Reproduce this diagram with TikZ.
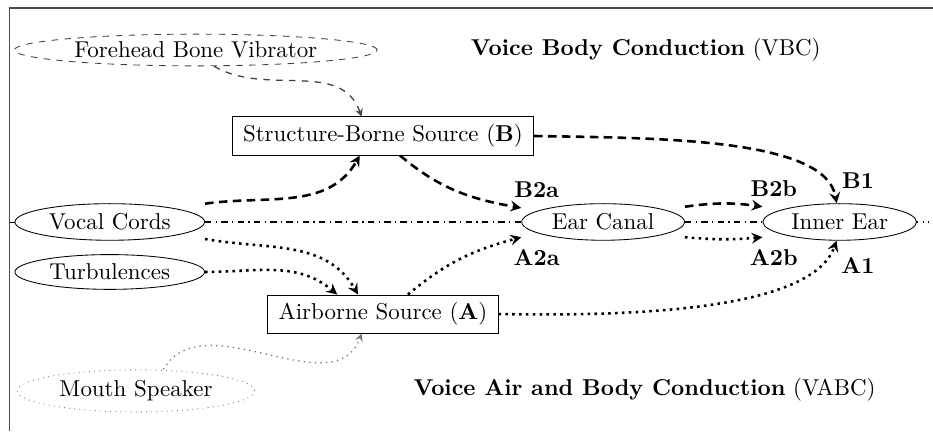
\documentclass[tikz,border=0pt]{standalone}
\usepackage{amsmath}
\usetikzlibrary{shapes,arrows,positioning}
\tikzset{organ/.style={draw, ellipse, inner sep=1pt, minimum height=0.6cm}}
\tikzset{src/.style={draw, rectangle, inner xsep=5pt, minimum height=0.62cm}}
\tikzset{body/.style={->, >=stealth, very thick, dash pattern=on 4pt off 2.5pt}}
\tikzset{air/.style={->, >=stealth, very thick, dotted}}
\tikzset{feed/.style={->, >=stealth, semithick, dashed, color=black!75}}
\tikzset{lbl/.style={font=\bfseries}}

\begin{document}
\fontsize{10.7}{13}\selectfont
\begin{tikzpicture}
                \useasboundingbox (0,0) rectangle (15.3,-7.07);
                \draw[semithick, color=black!70] (15.3,-0.13) -- (0.16,-0.13) -- (0.16,-7.07);

                % sources
                \node [organ, dashed, color=black!75, text=black, minimum width=5.95cm, minimum height=0.52cm] (fbv) at (3.21,-0.82) {Forehead Bone Vibrator};
                \node [src] (sbs) at (6.28,-2.23) {Structure-Borne Source (\textbf{B})};
                \node [src] (abs) at (6.28,-5.15) {Airborne Source (\textbf{A})};
                \node [organ, dotted, color=black!55, text=black, minimum width=3.89cm, minimum height=0.69cm] (ms) at (2.23,-6.41) {Mouth Speaker};

                % organs
                \node [organ, minimum width=3.11cm] (vc) at (1.80,-3.64) {Vocal Cords};
                \node [organ, minimum width=3.11cm, minimum height=0.57cm] (tb) at (1.80,-4.46) {Turbulences};
                \node [organ, minimum width=2.67cm] (ec) at (9.89,-3.64) {Ear Canal};
                \node [organ, minimum width=2.52cm] (ie) at (13.77,-3.64) {Inner Ear};

                \node (vbc) at (10.59,-0.82) {\textbf{Voice Body Conduction} (VBC)};
                \node (vabc) at (10.57,-6.39) {\textbf{Voice Air and Body Conduction} (VABC)};

                \coordinate (in) at (0.16,-3.64);
                \coordinate (out) at (15.3,-3.64);
                \draw (in) -- (vc);
                \draw[semithick, dash dot] (vc) -- (ec) (ec) -- (ie);
                \draw[semithick, dotted] (ie) -- (out);

                % body conduction
                \path[feed] ([xshift=0.3cm]fbv.south) edge[out=-30, in=110] ([xshift=-0.35cm]sbs.north);
                \path[body] ([yshift=0.3cm]vc.east) edge[out=8, in=-120] ([xshift=-0.38cm]sbs.south)
                    ([xshift=0.28cm]sbs.south) edge[out=-40, in=170] ([yshift=0.23cm]ec.west)
                    (sbs.east) edge[out=-1, in=100, in looseness=0.55] ([xshift=-0.05cm]ie.north)
                    ([yshift=0.25cm]ec.east) edge[bend left=8] ([yshift=0.25cm]ie.west);

                % air conduction
                \path[air] ([yshift=-0.28cm]vc.east) edge[out=-10, in=120] ([xshift=-0.41cm]abs.north)
                    (tb.east) edge[out=0, in=140] ([xshift=-0.75cm]abs.north)
                    ([xshift=0.41cm]abs.north) edge[out=40, in=195] ([yshift=-0.25cm]ec.west)
                    ([yshift=-0.25cm]ec.east) edge[bend right=5] ([yshift=-0.25cm]ie.west)
                    (abs.east) edge[out=-1, in=-110, in looseness=0.55] ([xshift=-0.05cm]ie.south);
                \path[->, >=stealth, semithick, dotted, color=black!55] ([xshift=0.45cm]ms.north) edge[out=60, in=-110] ([xshift=-0.35cm]abs.south);

                \node[lbl] (b2a) at (8.80,-3.11) {B2a};
                \node[lbl] (b2b) at (12.69,-3.10) {B2b};
                \node[lbl] (b1) at (14.07,-2.97) {B1};
                \node[lbl] (a2a) at (8.80,-4.23) {A2a};
                \node[lbl] (a2b) at (12.69,-4.23) {A2b};
                \node[lbl] (a1) at (14.07,-4.36) {A1};

            \end{tikzpicture}
\end{document}
